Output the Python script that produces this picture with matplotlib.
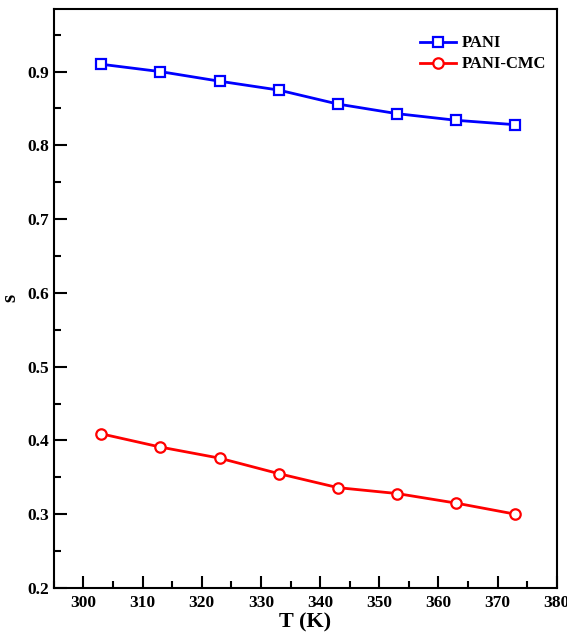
import matplotlib.pyplot as plt
from matplotlib.ticker import MultipleLocator

# data
temps = [303, 313, 323, 333, 343, 353, 363, 373]
s_pani = [0.910, 0.900, 0.887, 0.875, 0.856, 0.843, 0.834, 0.828]
s_pani_cmc = [0.409, 0.391, 0.376, 0.355, 0.336, 0.328, 0.315, 0.300]

plt.rcParams['font.family'] = ['Liberation Serif', 'DejaVu Serif']
plt.rcParams['font.weight'] = 'bold'

fig = plt.figure(figsize=(5.67, 6.37), dpi=100)
ax = fig.add_axes([0.095, 0.077, 0.887, 0.909])

ax.plot(temps, s_pani, color='blue', lw=2, marker='s', ms=7,
        mfc='white', mec='blue', mew=1.6, label='PANI')
ax.plot(temps, s_pani_cmc, color='red', lw=2, marker='o', ms=7.5,
        mfc='white', mec='red', mew=1.6, label='PANI-CMC')

ax.set_xlim(295, 380)
ax.set_ylim(0.2, 0.985)
ax.xaxis.set_major_locator(MultipleLocator(10))
ax.xaxis.set_minor_locator(MultipleLocator(5))
ax.yaxis.set_major_locator(MultipleLocator(0.1))
ax.yaxis.set_minor_locator(MultipleLocator(0.05))
ax.tick_params(which='both', direction='in', top=False, right=False,
               width=1.5, labelsize=12.5)
ax.tick_params(which='major', length=9)
ax.tick_params(axis='x', which='major', pad=5)
ax.tick_params(which='minor', length=5)
for sp in ax.spines.values():
    sp.set_linewidth(1.5)

ax.set_xlabel('T (K)', fontsize=16, fontweight='bold', labelpad=1)
ax.set_ylabel('s', fontsize=15, fontweight='bold', labelpad=5)

ax.legend(loc='upper right', frameon=False, fontsize=12, handlelength=2.2,
          handletextpad=0.3, labelspacing=0.3, bbox_to_anchor=(1.008, 0.98))

fig.savefig('out.png', dpi=100)
